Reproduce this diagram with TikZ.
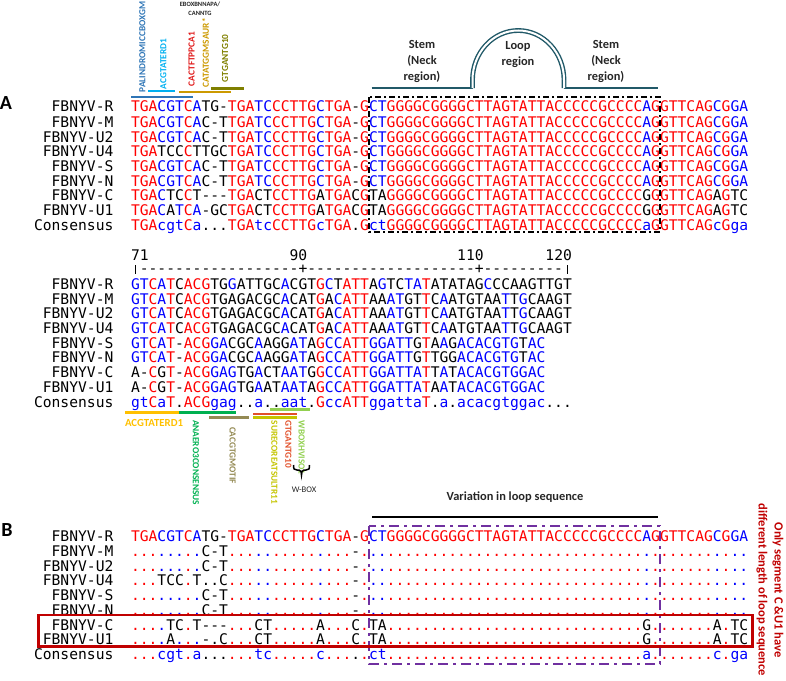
\documentclass[tikz,border=0pt]{standalone}
\usepackage{fontspec}
\setmainfont{Carlito}
\newfontfamily\seqfont{DejaVu Sans Mono}
\definecolor{alnred}{HTML}{FF0000}
\definecolor{alnblue}{HTML}{0000FF}
\definecolor{stemc}{HTML}{215968}
\definecolor{txtc}{HTML}{262626}
\definecolor{palc}{HTML}{2E75B6}
\definecolor{acgc}{HTML}{00B0F0}
\definecolor{cactc}{HTML}{E01818}
\definecolor{catc}{HTML}{CC9900}
\definecolor{olivec}{HTML}{7F7F00}
\definecolor{orangec}{HTML}{FFC000}
\definecolor{greenc}{HTML}{00B050}
\definecolor{brownc}{HTML}{948A54}
\definecolor{yellc}{HTML}{C4C400}
\definecolor{orredc}{HTML}{E2502A}
\definecolor{lgreenc}{HTML}{92D050}
\definecolor{darkredc}{HTML}{C00000}
\definecolor{purplec}{HTML}{7030A0}

\ExplSyntaxOn
\dim_new:N \g_aln_cw_dim
\dim_gset:Nn \g_aln_cw_dim { 8.817pt }
\str_new:N \l_aln_a_str
\str_new:N \l_aln_c_str
\str_new:N \l_aln_r_str
\tl_new:N \l_aln_col_tl
\cs_new:Npn \aln_upper:n #1 { \str_case:nnF {#1} { {a}{A} {c}{C} {g}{G} {t}{T} } {#1} }
\cs_generate_variant:Nn \aln_upper:n { V }
\cs_new_protected:Npn \aln_setcolor:
  {
    \str_if_eq:NNTF \l_aln_a_str \l_aln_c_str
      { \tl_set:Nn \l_aln_col_tl { alnred } }
      {
        \str_if_eq:eeTF { \l_aln_a_str } { \aln_upper:V \l_aln_c_str }
          { \tl_set:Nn \l_aln_col_tl { alnblue } }
          { \tl_set:Nn \l_aln_col_tl { black } }
      }
  }
\cs_new_protected:Npn \aln_cell:n #1
  {
    \hbox_to_wd:nn { \g_aln_cw_dim }
      { \hss \group_begin: \exp_args:NV \color \l_aln_col_tl #1 \group_end: \hss }
  }
\cs_generate_variant:Nn \aln_cell:n { V }
\cs_new_protected:Npn \aln_row:nn #1 #2
  {
    \int_step_inline:nn { \str_count:n {#1} }
      {
        \str_set:Nx \l_aln_a_str { \str_item:nn {#1} {##1} }
        \str_set:Nx \l_aln_c_str { \str_item:nn {#2} {##1} }
        \aln_setcolor:
        \aln_cell:V \l_aln_a_str
      }
  }
\cs_generate_variant:Nn \aln_row:nn { xx }
\cs_new_protected:Npn \aln_cons:n #1
  {
    \int_step_inline:nn { \str_count:n {#1} }
      {
        \str_set:Nx \l_aln_c_str { \str_item:nn {#1} {##1} }
        \str_if_eq:VnTF \l_aln_c_str { . }
          { \tl_set:Nn \l_aln_col_tl { black } }
          {
            \str_set:Nx \l_aln_a_str { \aln_upper:V \l_aln_c_str }
            \aln_setcolor:
          }
        \aln_cell:V \l_aln_c_str
      }
  }
\cs_generate_variant:Nn \aln_cons:n { x }
\cs_new_protected:Npn \aln_dot:nnn #1 #2 #3
  {
    \int_step_inline:nn { \str_count:n {#1} }
      {
        \str_set:Nx \l_aln_a_str { \str_item:nn {#1} {##1} }
        \str_set:Nx \l_aln_r_str { \str_item:nn {#2} {##1} }
        \str_set:Nx \l_aln_c_str { \str_item:nn {#3} {##1} }
        \str_if_eq:NNTF \l_aln_a_str \l_aln_r_str
          {
            \str_if_eq:VnTF \l_aln_a_str { - }
              { \tl_set:Nn \l_aln_col_tl { black } \aln_cell:V \l_aln_a_str }
              { \aln_setcolor: \aln_cell:n { . } }
          }
          { \tl_set:Nn \l_aln_col_tl { black } \aln_cell:V \l_aln_a_str }
      }
  }
\cs_generate_variant:Nn \aln_dot:nnn { xxx }
\cs_new_protected:Npn \aln_dotcons:n #1
  {
    \int_step_inline:nn { \str_count:n {#1} }
      {
        \str_set:Nx \l_aln_c_str { \str_item:nn {#1} {##1} }
        \str_if_eq:VnTF \l_aln_c_str { . }
          { \tl_set:Nn \l_aln_col_tl { black } \aln_cell:n { . } }
          {
            \str_set:Nx \l_aln_a_str { \aln_upper:V \l_aln_c_str }
            \str_if_eq:NNTF \l_aln_a_str \l_aln_c_str
              { \tl_set:Nn \l_aln_col_tl { alnred } \aln_cell:n { . } }
              { \tl_set:Nn \l_aln_col_tl { alnblue } \aln_cell:V \l_aln_c_str }
          }
      }
  }
\cs_generate_variant:Nn \aln_dotcons:n { x }
\cs_new_protected:Npn \aln_plain:n #1
  {
    \tl_set:Nn \l_aln_col_tl { black }
    \int_step_inline:nn { \str_count:n {#1} }
      {
        \str_set:Nx \l_aln_a_str { \str_item:nn {#1} {##1} }
        \str_if_eq:VnTF \l_aln_a_str { I }
          { \aln_cell:n { \rule{1.2pt}{8.5pt} } }
          { \aln_cell:V \l_aln_a_str }
      }
  }
\NewDocumentCommand \alnrow { m m } { \aln_row:xx {#1} {#2} }
\NewDocumentCommand \alncons { m } { \aln_cons:x {#1} }
\NewDocumentCommand \alndot { m m m } { \aln_dot:xxx {#1} {#2} {#3} }
\NewDocumentCommand \alndotcons { m } { \aln_dotcons:x {#1} }
\NewDocumentCommand \alnplain { m } { \aln_plain:n {#1} }
\ExplSyntaxOff

\def\sqaR{TGACGTCATG-TGATCCCTTGCTGA-GCTGGGGCGGGGCTTAGTATTACCCCCGCCCCAGGTTCAGCGGA}
\def\sqaM{TGACGTCAC-TTGATCCCTTGCTGA-GCTGGGGCGGGGCTTAGTATTACCCCCGCCCCAGGTTCAGCGGA}
\def\sqaUiv{TGATCCCTTGCTGATCCCTTGCTGA-GCTGGGGCGGGGCTTAGTATTACCCCCGCCCCAGGTTCAGCGGA}
\def\sqaC{TGACTCCT---TGACTCCTTGATGACGTAGGGGCGGGGCTTAGTATTACCCCCGCCCCGGGTTCAGAGTC}
\def\sqaUi{TGACATCA-GCTGACTCCTTGATGACGTAGGGGCGGGGCTTAGTATTACCCCCGCCCCGGGTTCAGAGTC}
\def\sqaCons{TGAcgtCa...TGAtcCCTTGcTGA.GctGGGGCGGGGCTTAGTATTACCCCCGCCCCaGGTTCAGcGga}

\def\sqbR{GTCATCACGTGGATTGCACGTGCTATTAGTCTATATATAGCCCAAGTTGT}
\def\sqbM{GTCATCACGTGAGACGCACATGACATTAAATGTTCAATGTAATTGCAAGT}
\def\sqbS{GTCAT-ACGGACGCAAGGATAGCCATTGGATTGTAAGACACGTGTAC}
\def\sqbN{GTCAT-ACGGACGCAAGGATAGCCATTGGATTGTTGGACACGTGTAC}
\def\sqbC{A-CGT-ACGGAGTGACTAATGGCCATTGGATTATTATACACGTGGAC}
\def\sqbUi{A-CGT-ACGGAGTGAATAATAGCCATTGGATTATAATACACGTGGAC}
\def\sqbCons{gtCaT.ACGgag..a..aat.GccATTggattaT.a.acacgtggac...}

\begin{document}
\begin{tikzpicture}[x=1pt,y=-1pt,
  every node/.style={inner sep=0pt,outer sep=0pt},
  seq/.style={anchor=base west,font=\seqfont\fontsize{14.65}{16}\selectfont},
  nm/.style={anchor=base east,font=\seqfont\fontsize{14.65}{16}\selectfont},
  vlab/.style={rotate=90,anchor=west,font=\bfseries\fontsize{9.3}{10}\selectfont},
  dlab/.style={rotate=-90,anchor=west,font=\bfseries\fontsize{9.3}{10}\selectfont},
  mline/.style={line width=2.4pt},
  stemline/.style={draw=stemc,line width=2.4pt},
  captxt/.style={font=\bfseries\fontsize{12.4}{16}\selectfont,text=txtc,align=center},
  panel/.style={font=\bfseries\fontsize{20}{22}\selectfont}]
\useasboundingbox (0,0) rectangle (786,680);

% ---------- panel labels
\node[panel] (labA) at (6,103.5) {A};
\node[panel] (labB) at (7,530) {B};

% ---------- top motif annotations
\node[vlab,text=palc] (mPal) at (142.3,92) {PALINDROMICCBOXGM};
\node[vlab,text=acgc] (mAcg) at (163.3,89) {ACGTATERD1};
\node[vlab,text=cactc] (mCact) at (191.7,86) {CACTFTPPCA1};
\node[vlab,text=catc] (mCat) at (205.7,87) {CATATGGMSAUR*};
\node[vlab,text=olivec] (mGtg) at (225,82) {GTGANTG10};
\node[align=center,font=\bfseries\fontsize{6.5}{8.5}\selectfont,text=txtc] (mEbox) at (200,8.5) {EBOXBNNAPA/\\CANNTG};
\draw[mline,draw=palc] (131,96.7) -- (192.7,96.7);
\draw[mline,draw=acgc] (148,91) -- (175,91);
\draw[mline,draw=catc] (179,91.7) -- (230.7,91.7);
\draw[mline,draw=olivec] (211,88.3) -- (244,88.3);

% ---------- stem-loop sketch
\draw[stemline] (371.7,88) -- (472.5,88);
\draw[stemline] (564,88) -- (658,88);
\draw[draw=stemc,line width=1.4pt,double=white,double distance=2pt]
  (472.5,88) -- (472.5,80) arc[start angle=180,end angle=360,x radius=45.75,y radius=49.5] -- (564,88);
\node[captxt] (tStemL) at (422,61) {Stem\\(Neck\\region)};
\node[captxt] (tLoop) at (518,55) {Loop\\region};
\node[captxt] (tStemR) at (606,61) {Stem\\(Neck\\region)};

% ---------- block A
\node[nm] (naR) at (113.4,111.5) {FBNYV-R};
\node[nm] (naM) at (113.4,127.3) {FBNYV-M};
\node[nm] (naU2) at (113.4,142) {FBNYV-U2};
\node[nm] (naU4) at (113.4,156.7) {FBNYV-U4};
\node[nm] (naS) at (113.4,171.4) {FBNYV-S};
\node[nm] (naN) at (113.4,186.1) {FBNYV-N};
\node[nm] (naC) at (113.4,200.8) {FBNYV-C};
\node[nm] (naU1) at (113.4,215.5) {FBNYV-U1};
\node[nm] (naCons) at (113.4,230.2) {Consensus};
\node[seq] (aR) at (131,111.5) {\alnrow{\sqaR}{\sqaCons}};
\node[seq] (aM) at (131,127.3) {\alnrow{\sqaM}{\sqaCons}};
\node[seq] (aU2) at (131,142) {\alnrow{\sqaM}{\sqaCons}};
\node[seq] (aU4) at (131,156.7) {\alnrow{\sqaUiv}{\sqaCons}};
\node[seq] (aS) at (131,171.4) {\alnrow{\sqaM}{\sqaCons}};
\node[seq] (aN) at (131,186.1) {\alnrow{\sqaM}{\sqaCons}};
\node[seq] (aC) at (131,200.8) {\alnrow{\sqaC}{\sqaCons}};
\node[seq] (aU1) at (131,215.5) {\alnrow{\sqaUi}{\sqaCons}};
\node[seq] (aCons) at (131,230.2) {\alncons{\sqaCons}};
\draw[line width=1.6pt,dash pattern=on 6pt off 3pt on 2pt off 3pt] (369,97) rectangle (660,232);

% ---------- block 2 (positions 71-120)
\node[seq] (r71) at (131,260) {71};
\node[seq,anchor=base east] (r90) at (307.3,260) {90};
\node[seq,anchor=base east] (r110) at (483.7,260) {110};
\node[seq,anchor=base east] (r120) at (571.9,260) {120};
\node[seq] (ruler) at (131,273.5) {\alnplain{I------------------+-------------------+---------I}};
\node[nm] (nbR) at (113.4,289) {FBNYV-R};
\node[nm] (nbM) at (113.4,304) {FBNYV-M};
\node[nm] (nbU2) at (113.4,318.8) {FBNYV-U2};
\node[nm] (nbU4) at (113.4,333.5) {FBNYV-U4};
\node[nm] (nbS) at (113.4,348.2) {FBNYV-S};
\node[nm] (nbN) at (113.4,362.9) {FBNYV-N};
\node[nm] (nbC) at (113.4,377.6) {FBNYV-C};
\node[nm] (nbU1) at (113.4,392.3) {FBNYV-U1};
\node[nm] (nbCons) at (113.4,407) {Consensus};
\node[seq] (bR) at (131,289) {\alnrow{\sqbR}{\sqbCons}};
\node[seq] (bM) at (131,304) {\alnrow{\sqbM}{\sqbCons}};
\node[seq] (bU2) at (131,318.8) {\alnrow{\sqbM}{\sqbCons}};
\node[seq] (bU4) at (131,333.5) {\alnrow{\sqbM}{\sqbCons}};
\node[seq] (bS) at (131,348.2) {\alnrow{\sqbS}{\sqbCons}};
\node[seq] (bN) at (131,362.9) {\alnrow{\sqbN}{\sqbCons}};
\node[seq] (bC) at (131,377.6) {\alnrow{\sqbC}{\sqbCons}};
\node[seq] (bU1) at (131,392.3) {\alnrow{\sqbUi}{\sqbCons}};
\node[seq] (bCons) at (131,407) {\alncons{\sqbCons}};

% ---------- lower motif annotations
\draw[mline,draw=orangec] (125,412.3) -- (179,412.3);
\draw[mline,draw=greenc] (179,412.3) -- (235.7,412.3);
\draw[mline,draw=brownc] (209,417.3) -- (249.3,417.3);
\draw[mline,draw=orredc] (253.3,414) -- (296.7,414);
\draw[mline,draw=yellc] (253.3,417.6) -- (296.7,417.6);
\draw[mline,draw=lgreenc] (270,409.3) -- (310,409.3);
\node[anchor=west,font=\bfseries\fontsize{10.8}{12}\selectfont,text=orangec] (lAcg) at (125,422.7) {ACGTATERD1};
\node[dlab,text=greenc] (lAna) at (196,420) {ANAERO3CONSENSUS};
\node[dlab,text=brownc] (lCac) at (232.7,427) {CACGTGMOTIF};
\node[dlab,text=yellc] (lSur) at (274.3,420.7) {SURECOREATSULTR11};
\node[dlab,text=orredc] (lGtg) at (288.3,420.7) {GTGANTG10};
\node[dlab,text=lgreenc] (lWbox) at (301.7,420.7) {WBOXHVISO1};
\draw[line width=1.5pt] (293.5,465) .. controls (293.5,469) and (294,470) .. (297,470) -- (299,470)
  .. controls (301,470) and (301.5,472) .. (301.5,475)
  .. controls (301.5,472) and (302,470) .. (304,470) -- (306,470)
  .. controls (309,470) and (309.5,469) .. (309.5,465);
\node[font=\fontsize{8.6}{10}\selectfont,text=txtc] (tWbox) at (304,490) {W-BOX};

% ---------- block B
\node[captxt] (tVar) at (515,497) {Variation in loop sequence};
\draw[line width=2.4pt] (372,517) -- (658,517);
\node[nm] (ncR) at (113.4,541.5) {FBNYV-R};
\node[nm] (ncM) at (113.4,556.5) {FBNYV-M};
\node[nm] (ncU2) at (113.4,571.2) {FBNYV-U2};
\node[nm] (ncU4) at (113.4,585.9) {FBNYV-U4};
\node[nm] (ncS) at (113.4,600.6) {FBNYV-S};
\node[nm] (ncN) at (113.4,615.3) {FBNYV-N};
\node[nm] (ncC) at (113.4,630) {FBNYV-C};
\node[nm] (ncU1) at (113.4,644.7) {FBNYV-U1};
\node[nm] (ncCons) at (113.4,659.4) {Consensus};
\node[seq] (cR) at (131,541.5) {\alnrow{\sqaR}{\sqaCons}};
\node[seq] (cM) at (131,556.5) {\alndot{\sqaM}{\sqaR}{\sqaCons}};
\node[seq] (cU2) at (131,571.2) {\alndot{\sqaM}{\sqaR}{\sqaCons}};
\node[seq] (cU4) at (131,585.9) {\alndot{\sqaUiv}{\sqaR}{\sqaCons}};
\node[seq] (cS) at (131,600.6) {\alndot{\sqaM}{\sqaR}{\sqaCons}};
\node[seq] (cN) at (131,615.3) {\alndot{\sqaM}{\sqaR}{\sqaCons}};
\node[seq] (cC) at (131,630) {\alndot{\sqaC}{\sqaR}{\sqaCons}};
\node[seq] (cU1) at (131,644.7) {\alndot{\sqaUi}{\sqaR}{\sqaCons}};
\node[seq] (cCons) at (131,659.4) {\alndotcons{\sqaCons}};
\draw[draw=purplec,line width=2.8pt,dash pattern=on 10pt off 5pt on 3pt off 5pt] (369,526) rectangle (660,664);
\draw[draw=darkredc,line width=2.8pt] (38.3,615) rectangle (752.7,646.7);
\node[rotate=-90,align=center,font=\bfseries\fontsize{12.5}{16}\selectfont,text=darkredc] (tOnly) at (770,590) {Only segment C \&U1 have\\different length of loop sequence};
\end{tikzpicture}
\end{document}
